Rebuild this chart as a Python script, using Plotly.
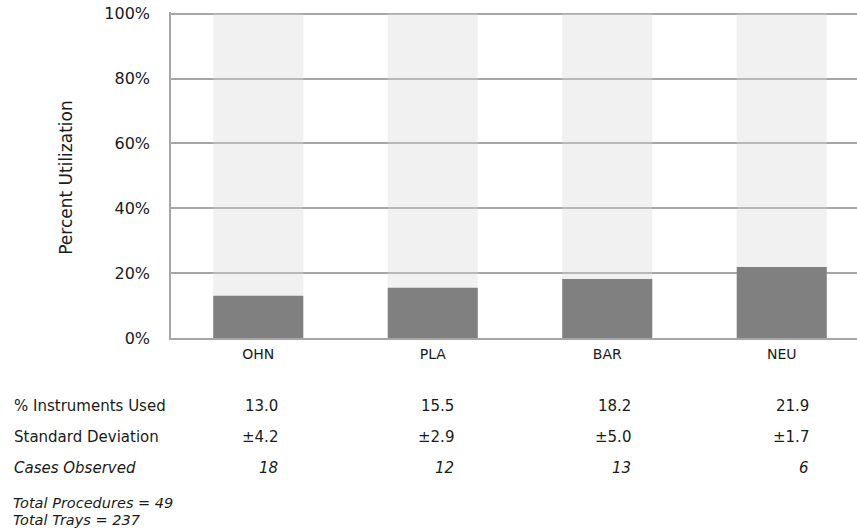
import plotly.graph_objects as go

categories = ["OHN", "PLA", "BAR", "NEU"]
pct_used = [13.0, 15.5, 18.2, 21.9]
std_dev = [4.2, 2.9, 5.0, 1.7]
cases = [18, 12, 13, 6]
full_scale = [100, 100, 100, 100]
y_ticks = [0, 20, 40, 60, 80, 100]
row_labels = ["% Instruments Used", "Standard Deviation", "Cases Observed"]
footnotes = ["Total Procedures = 49", "Total Trays = 237"]
y_title = "Percent Utilization"

FONT = "DejaVu Sans"
TXT = "#1a1a1a"
W, H = 857, 532
L = 171
BOTTOM = 338
Y_MAX = 100.5
PX_PER_PCT = 3.24
plot_h = PX_PER_PCT * Y_MAX
T = BOTTOM - plot_h
B = H - BOTTOM
plot_w = W - L
band = 174.5


def py(ys):
    return (BOTTOM - ys) / plot_h


def px(xs):
    return (xs - L) / plot_w


def dx(xs):
    return (xs - L) / band - 0.5


col_right = [280, 456, 633, 811]
rows_y = [406, 437, 468]
foot_y = [503, 520]

fig = go.Figure()
fig.add_trace(go.Bar(x=categories, y=full_scale,
                     marker=dict(color="rgba(215,215,215,0.36)", line_width=0),
                     hoverinfo="skip", showlegend=False))
fig.add_trace(go.Bar(x=categories, y=pct_used,
                     marker=dict(color="#808080", line_width=0), showlegend=False))

ann = []
for lbl, yy, it in zip(row_labels, rows_y, [False, False, True]):
    ann.append(dict(xref="paper", yref="paper", x=px(12), y=py(yy),
                    text=("<i>%s</i>" % lbl) if it else lbl,
                    showarrow=False, xanchor="left", yanchor="middle",
                    font=dict(family=FONT, size=15, color=TXT)))
for i in range(len(categories)):
    row_texts = ["%.1f" % pct_used[i], "±%.1f" % std_dev[i], "<i>%d</i>" % cases[i]]
    for t, yy in zip(row_texts, rows_y):
        ann.append(dict(xref="x", yref="paper", x=dx(col_right[i]), y=py(yy), text=t,
                        showarrow=False, xanchor="right", yanchor="middle",
                        font=dict(family=FONT, size=15, color=TXT)))
for t, yy in zip(footnotes, foot_y):
    ann.append(dict(xref="paper", yref="paper", x=px(11), y=py(yy), text="<i>%s</i>" % t,
                    showarrow=False, xanchor="left", yanchor="middle",
                    font=dict(family=FONT, size=14.5, color=TXT)))
ann.append(dict(xref="paper", yref="paper", x=px(66), y=py(178), text=y_title, textangle=-90,
                showarrow=False, xanchor="center", yanchor="middle",
                font=dict(family=FONT, size=17, color=TXT)))

fig.update_layout(
    width=W, height=H,
    margin=dict(l=L, r=0, t=T, b=B, autoexpand=False),
    paper_bgcolor="white", plot_bgcolor="white",
    barmode="overlay", bargap=0.484,
    annotations=ann,
    font=dict(family=FONT, color=TXT),
)
fig.update_xaxes(
    range=[-0.5, -0.5 + plot_w / band],
    showline=True, linecolor="#a6a6a6", linewidth=1.5,
    showgrid=False, ticks="", tickfont=dict(family=FONT, size=14, color=TXT),
    ticklabelstandoff=2, fixedrange=True,
)
fig.update_yaxes(
    range=[0, Y_MAX], tickvals=y_ticks, ticktext=["%d%%" % v for v in y_ticks],
    showline=True, linecolor="#a6a6a6", linewidth=1.5,
    showgrid=True, gridcolor="#a6a6a6", gridwidth=1.5, zeroline=False,
    ticks="", tickfont=dict(family=FONT, size=16, color=TXT), ticklabelstandoff=16,
    automargin=False, fixedrange=True,
)
fig.write_html("out.html", config={"displayModeBar": False},
               post_script="document.body.style.margin='0';document.body.style.overflow='hidden';")
